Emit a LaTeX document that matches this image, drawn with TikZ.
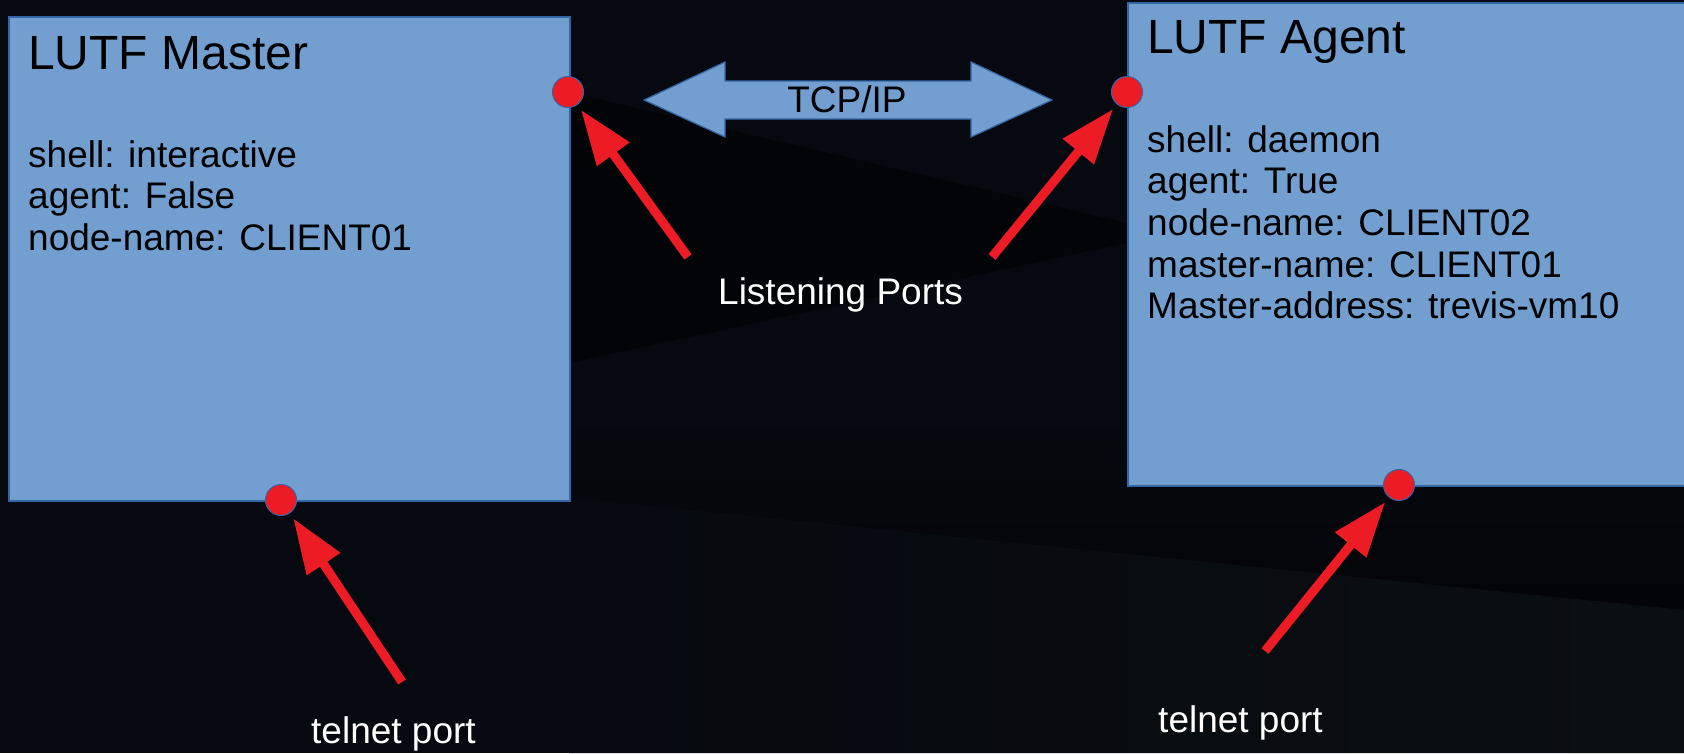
\documentclass[tikz,border=0pt]{standalone}
\usepackage{fontspec}
\setmainfont{Liberation Sans}
\usetikzlibrary{arrows.meta}
\definecolor{bgbase}{HTML}{060A10}
\definecolor{bgdark}{HTML}{020407}
\definecolor{bgblack}{HTML}{020407}
\definecolor{bglow}{HTML}{0A0F12}
\definecolor{boxfill}{HTML}{729FCF}
\definecolor{boxline}{HTML}{3465A4}
\definecolor{portred}{HTML}{ED1C24}
\tikzset{
  panel/.style={rectangle, fill=boxfill, draw=boxline, line width=1.5pt, inner sep=0pt},
  titletext/.style={inner sep=0pt, anchor=base west, text=black, font=\fontsize{48pt}{55pt}\selectfont},
  bodytext/.style={inner sep=0pt, anchor=base west, text=black, font=\fontsize{37pt}{41.5pt}\selectfont},
  labeltext/.style={inner sep=0pt, anchor=base west, text=white, font=\fontsize{37pt}{41.5pt}\selectfont},
  portdot/.style={circle, fill=portred, draw=boxline, line width=1pt, minimum size=31pt, inner sep=0pt},
  redarrow/.style={draw=portred, line width=9pt, -{Triangle[length=55pt,width=38pt]}, shorten >=6pt}
}
\begin{document}
\begin{tikzpicture}[x=1pt,y=-1pt]
\useasboundingbox (0,0) rectangle (1684,753);
\clip (0,0) rectangle (1684,753);
% background
\fill[bgbase] (0,0) rectangle (1684,753);
\fill[bgdark] (569,92) -- (1127,223) -- (1127,243) -- (569,363) -- cycle;
\shade[top color=bgbase, bottom color=bgblack] (569,400) -- (1684,400) -- (1684,610) -- (569,498) -- cycle;
\shade[left color=bgbase, right color=bglow] (569,498) -- (1684,610) -- (1684,753) -- (569,753) -- cycle;
% panels
\node[panel, anchor=north west, minimum width=561pt, minimum height=484pt] (master) at (8,16) {};
\node[panel, anchor=north west, minimum width=620pt, minimum height=483pt] (agent) at (1127,2) {};
% master text
\node[titletext] (mtitle) at (28,69) {LUTF Master};
\node[bodytext] (mshell) at (28,167) {shell: interactive};
\node[bodytext] (magent) at (28,208) {agent: False};
\node[bodytext] (mnode) at (28,250) {node-name: CLIENT01};
% agent text
\node[titletext] (atitle) at (1147,53) {LUTF Agent};
\node[bodytext] (ashell) at (1147,152) {shell: daemon};
\node[bodytext] (aagent) at (1147,193) {agent: True};
\node[bodytext] (anode) at (1147,235) {node-name: CLIENT02};
\node[bodytext] (amname) at (1147,277) {master-name: CLIENT01};
\node[bodytext] (amaddr) at (1147,318) {Master-address: trevis-vm10};
% TCP/IP double arrow
\draw[fill=boxfill, draw=boxline, line width=1.2pt] (644,100) -- (725,62) -- (725,81) -- (971,81) -- (971,62) -- (1052,100) -- (971,137) -- (971,119) -- (725,119) -- (725,137) -- cycle;
\node[bodytext, anchor=base] (tcp) at (847,112) {TCP/IP};
% ports
\node[portdot] (mlisten) at (568,92) {};
\node[portdot] (alisten) at (1127,92) {};
\node[portdot] (mtelnet) at (281,500) {};
\node[portdot] (atelnet) at (1399,485) {};
% labels
\node[labeltext] (listening) at (718,304) {Listening Ports};
\node[labeltext] (mtellabel) at (311,743) {telnet port};
\node[labeltext] (atellabel) at (1158,732) {telnet port};
% arrow tails
\coordinate (mlistenT) at (688,257);
\coordinate (alistenT) at (992,257);
\coordinate (mtelnetT) at (402,682);
\coordinate (atelnetT) at (1265,651);
\draw[redarrow] (mlistenT) -- (mlisten);
\draw[redarrow] (alistenT) -- (alisten);
\draw[redarrow] (mtelnetT) -- (mtelnet);
\draw[redarrow] (atelnetT) -- (atelnet);
\end{tikzpicture}
\end{document}
